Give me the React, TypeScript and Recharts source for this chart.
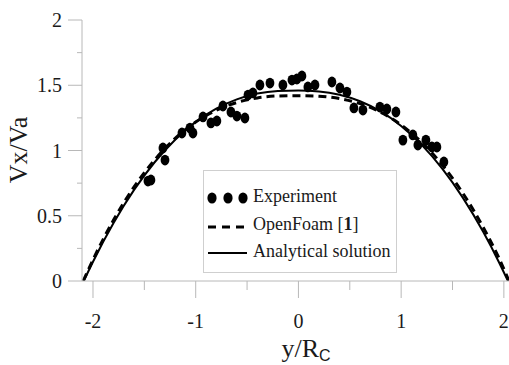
import React from 'react';
import { ComposedChart, Line, Scatter, XAxis, YAxis } from 'recharts';

const experimentX = [-1.465, -1.436, -1.319, -1.299, -1.134, -1.056, -1.027, -0.929, -0.852, -0.794, -0.735, -0.657, -0.599, -0.521, -0.491, -0.443, -0.375, -0.277, -0.151, -0.063, -0.015, 0.034, 0.092, 0.161, 0.326, 0.404, 0.472, 0.54, 0.628, 0.793, 0.861, 0.949, 1.017, 1.114, 1.163, 1.241, 1.299, 1.348, 1.416];
const experimentY = [0.766, 0.774, 1.019, 0.927, 1.134, 1.172, 1.134, 1.257, 1.211, 1.226, 1.341, 1.295, 1.264, 1.249, 1.425, 1.441, 1.502, 1.517, 1.502, 1.54, 1.548, 1.571, 1.487, 1.502, 1.525, 1.479, 1.448, 1.326, 1.31, 1.333, 1.318, 1.295, 1.08, 1.119, 1.042, 1.08, 1.027, 1.027, 0.912];

const analyticalX = [-2.09, -2.0, -1.8, -1.6, -1.4, -1.2, -1.0, -0.8, -0.6, -0.4, -0.2, 0, 0.2, 0.4, 0.6, 0.8, 1.0, 1.2, 1.4, 1.6, 1.8, 1.95, 2.04];
const analyticalY = [0, 0.148, 0.445, 0.698, 0.91, 1.083, 1.219, 1.321, 1.392, 1.436, 1.456, 1.46, 1.453, 1.427, 1.377, 1.299, 1.188, 1.043, 0.861, 0.639, 0.375, 0.148, 0];

const openFoamX = [-2.095, -2.0, -1.8, -1.6, -1.4, -1.2, -1.0, -0.8, -0.6, -0.4, -0.2, 0, 0.2, 0.4, 0.6, 0.8, 1.0, 1.2, 1.4, 1.6, 1.8, 1.95, 2.05];
const openFoamY = [0, 0.163, 0.467, 0.721, 0.928, 1.093, 1.218, 1.308, 1.368, 1.403, 1.418, 1.42, 1.416, 1.398, 1.359, 1.293, 1.196, 1.063, 0.89, 0.674, 0.41, 0.179, 0];

const xTicks = [-2, -1.5, -1, -0.5, 0, 0.5, 1, 1.5, 2];
const xMajorLabels = ['-2', '-1', '0', '1', '2'];
const yTicks = [0, 0.25, 0.5, 0.75, 1, 1.25, 1.5, 1.75, 2];
const yMajorLabels = ['0', '0.5', '1', '1.5', '2'];

const seriesNames = ['Experiment', 'OpenFoam [', 'Analytical solution'];

const zip = (xs: number[], ys: number[]) => xs.map((x, i) => ({ x, y: ys[i] }));
const experimentData = zip(experimentX, experimentY);
const analyticalData = zip(analyticalX, analyticalY);
const openFoamData = zip(openFoamX, openFoamY);

const SERIF = "'Liberation Serif', 'Times New Roman', Times, 'DejaVu Serif', serif";
const SANS = "'Liberation Sans', Arial, sans-serif";
const AXIS_GRAY = '#b8b8b8';
const TEXT = '#1a1a1a';
const serifStyle = { fontFamily: SERIF };

const XTick = (props: any) => {
  const { x, y, payload } = props;
  const v = payload.value as number;
  const major = Number.isInteger(v);
  const idx = [-2, -1, 0, 1, 2].indexOf(v);
  return (
    <g>
      <line x1={x} x2={x} y1={y} y2={y + (major ? 17 : 9)} stroke={AXIS_GRAY} strokeWidth={1} />
      {major && (
        <text x={x} y={y + 47} textAnchor="middle" fontSize={20} style={serifStyle} fill={TEXT}>
          {xMajorLabels[idx]}
        </text>
      )}
    </g>
  );
};

const YTick = (props: any) => {
  const { x, y, payload } = props;
  const v = payload.value as number;
  const major = Number.isInteger(v * 2);
  const idx = [0, 0.5, 1, 1.5, 2].indexOf(v);
  return (
    <g>
      <line x1={x - (major ? 14 : 5)} x2={x} y1={y} y2={y} stroke={AXIS_GRAY} strokeWidth={1} />
      {major && (
        <text x={x - 20} y={y + 7} textAnchor="end" fontSize={20} style={serifStyle} fill={TEXT}>
          {yMajorLabels[idx]}
        </text>
      )}
    </g>
  );
};

const Dot = (props: any) => {
  const { cx, cy } = props;
  if (cx == null || cy == null) return null;
  return <ellipse cx={cx} cy={cy} rx={4.4} ry={5.4} fill="#000" />;
};

const XTitle = () => (
  <text x={306} y={357} textAnchor="middle" fontSize={26} style={serifStyle} fill={TEXT}>
    y/R
    <tspan fontSize={16} style={{ fontFamily: SANS }} dy={4}>C</tspan>
  </text>
);

const YTitle = () => (
  <text x={27} y={150} transform="rotate(-90, 27, 150)" textAnchor="middle" fontSize={26} style={serifStyle} fill={TEXT}>
    Vx/Va
  </text>
);

const LegendBox = () => (
  <svg width={195} height={104} style={{ position: 'absolute', left: 203, top: 170, fontFamily: SERIF }}>
    <rect x={0.5} y={0.5} width={193} height={102} fill="#fff" stroke="#cfcfcf" strokeWidth={1} />
    <ellipse cx={9} cy={28} rx={4.6} ry={5.6} fill="#000" />
    <ellipse cx={25} cy={28} rx={4.6} ry={5.6} fill="#000" />
    <ellipse cx={40} cy={28} rx={4.6} ry={5.6} fill="#000" />
    <text x={50} y={32} fontSize={18} style={serifStyle} fill={TEXT}>{seriesNames[0]}</text>
    <line x1={5} x2={44} y1={57} y2={57} stroke="#000" strokeWidth={3} strokeDasharray="8 6" />
    <text x={50} y={60} fontSize={18} style={serifStyle} fill={TEXT}>
      {seriesNames[1]}<tspan fontWeight="bold">1</tspan>]
    </text>
    <line x1={5} x2={44} y1={83} y2={83} stroke="#000" strokeWidth={2} />
    <text x={50} y={87} fontSize={18} style={serifStyle} fill={TEXT}>{seriesNames[2]}</text>
  </svg>
);

export default function App() {
  return (
    <div style={{ position: 'absolute', left: 0, top: 0, width: 509, height: 365, background: '#fff', fontFamily: SERIF }}>
      <ComposedChart width={509} height={365} margin={{ top: 20, right: 0, bottom: 0, left: 0 }} style={{ fontFamily: SERIF }}>
        <XAxis
          type="number"
          dataKey="x"
          domain={[-2.107, 2.05]}
          allowDataOverflow
          ticks={xTicks}
          interval={0}
          tickSize={0}
          tickMargin={0}
          tickLine={false}
          tick={<XTick />}
          axisLine={{ stroke: AXIS_GRAY, strokeWidth: 1 }}
          height={84}
          label={<XTitle />}
        />
        <YAxis
          type="number"
          domain={[0, 2]}
          allowDataOverflow
          ticks={yTicks}
          interval={0}
          tickSize={0}
          tickMargin={0}
          tickLine={false}
          tick={<YTick />}
          axisLine={{ stroke: AXIS_GRAY, strokeWidth: 1 }}
          width={82}
          label={<YTitle />}
        />
        <Line
          data={analyticalData}
          dataKey="y"
          type="monotone"
          stroke="#000"
          strokeWidth={2}
          dot={false}
          activeDot={false}
          isAnimationActive={false}
        />
        <Line
          data={openFoamData}
          dataKey="y"
          type="monotone"
          stroke="#000"
          strokeWidth={3}
          strokeDasharray="8 5"
          dot={false}
          activeDot={false}
          isAnimationActive={false}
        />
        <Scatter data={experimentData} dataKey="y" shape={<Dot />} isAnimationActive={false} />
      </ComposedChart>
      <LegendBox />
    </div>
  );
}
